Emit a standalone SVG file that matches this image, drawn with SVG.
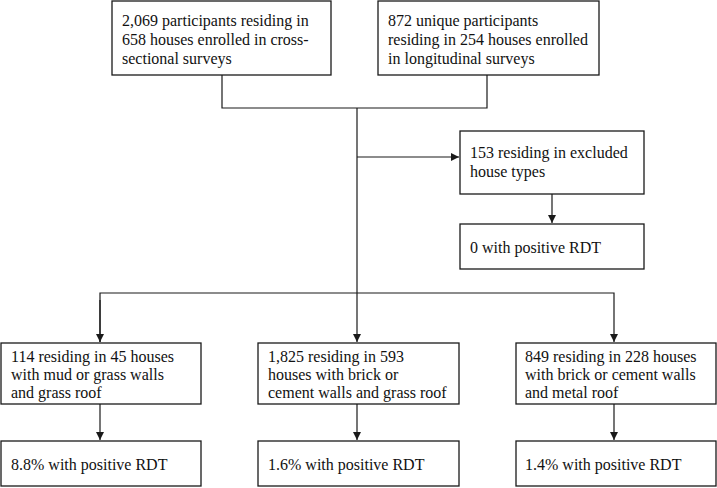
<svg xmlns="http://www.w3.org/2000/svg" width="717" height="488" viewBox="0 0 717 488">
<style>
.box{fill:#fff;stroke:#1a1a1a;stroke-width:1.3}
.ln{fill:none;stroke:#1a1a1a;stroke-width:1.2}
text{font-family:"Liberation Serif","Times New Roman",serif;font-size:16px;fill:#111}
</style>
<defs>
<marker id="ah" markerWidth="8" markerHeight="8" refX="8" refY="4" orient="auto" markerUnits="userSpaceOnUse">
<path d="M0,0 L8,4 L0,8 Z" fill="#1a1a1a"/>
</marker>
</defs>
<rect width="717" height="488" fill="#fff"/>
<g id="connectors">
<polyline class="ln" points="222,75 222,108 487,108 487,75"/>
<line class="ln" x1="357" y1="108" x2="357" y2="342" marker-end="url(#ah)"/>
<line class="ln" x1="357" y1="157" x2="459" y2="157" marker-end="url(#ah)"/>
<line class="ln" x1="552" y1="194" x2="552" y2="223" marker-end="url(#ah)"/>
<polyline class="ln" points="100,342 100,293 614,293 614,342" marker-end="url(#ah)"/>
<line class="ln" x1="100" y1="300" x2="100" y2="342" marker-end="url(#ah)"/>
<line class="ln" x1="100" y1="404" x2="100" y2="440" marker-end="url(#ah)"/>
<line class="ln" x1="357" y1="404" x2="357" y2="440" marker-end="url(#ah)"/>
<line class="ln" x1="614" y1="404" x2="614" y2="440" marker-end="url(#ah)"/>
</g>
<g id="n1"><rect class="box" x="112" y="1" width="219" height="74"/>
<text x="122" y="26">2,069 participants residing in</text>
<text x="122" y="45">658 houses enrolled in cross-</text>
<text x="122" y="64">sectional surveys</text></g>
<g id="n2"><rect class="box" x="378" y="1" width="221" height="74"/>
<text x="388" y="26">872 unique participants</text>
<text x="388" y="45">residing in 254 houses enrolled</text>
<text x="388" y="64">in longitudinal surveys</text></g>
<g id="n3"><rect class="box" x="460" y="131" width="184" height="63"/>
<text x="470" y="158">153 residing in excluded</text>
<text x="470" y="177">house types</text></g>
<g id="n4"><rect class="box" x="460" y="224" width="184" height="45"/>
<text x="470" y="253">0 with positive RDT</text></g>
<g id="n5"><rect class="box" x="1" y="343" width="200" height="61"/>
<text x="11" y="362">114 residing in 45 houses</text>
<text x="11" y="380">with mud or grass walls</text>
<text x="11" y="398">and grass roof</text></g>
<g id="n6"><rect class="box" x="258" y="343" width="201" height="61"/>
<text x="268" y="362">1,825 residing in 593</text>
<text x="268" y="380">houses with brick or</text>
<text x="268" y="398">cement walls and grass roof</text></g>
<g id="n7"><rect class="box" x="516" y="343" width="200" height="61"/>
<text x="525" y="362">849 residing in 228 houses</text>
<text x="525" y="380">with brick or cement walls</text>
<text x="525" y="398">and metal roof</text></g>
<g id="n8"><rect class="box" x="1" y="441" width="200" height="45"/>
<text x="11" y="470">8.8% with positive RDT</text></g>
<g id="n9"><rect class="box" x="258" y="441" width="201" height="45"/>
<text x="268" y="470">1.6% with positive RDT</text></g>
<g id="n10"><rect class="box" x="516" y="441" width="200" height="45"/>
<text x="525" y="470">1.4% with positive RDT</text></g>
</svg>
